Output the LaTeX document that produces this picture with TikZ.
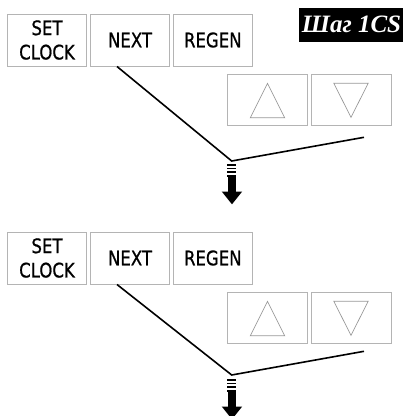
\documentclass[tikz,border=0pt]{standalone}
\usepackage{fontspec}
\usetikzlibrary{calc}
\newfontfamily\btnfont[FakeBold=0.8,FakeStretch=0.92]{DejaVu Sans Condensed}
\newfontfamily\lblfont{Liberation Serif}
\definecolor{boxgray}{HTML}{B4B4B4}
\definecolor{trigray}{HTML}{999999}
\tikzset{
  btn/.style={draw=boxgray, line width=0.9pt, minimum width=79pt, minimum height=52pt,
    inner sep=0pt, align=center, font=\btnfont\fontsize{20}{24.3}\selectfont},
  arrbox/.style={draw=boxgray, line width=0.9pt, minimum width=80pt, minimum height=51.5pt, inner sep=0pt},
  tri/.style={draw=trigray, line width=0.7pt, line join=miter},
  conn/.style={line width=1.6pt, line join=miter},
  stripe/.style={fill=black, draw=none}
}
\begin{document}
\begin{tikzpicture}[x=1pt,y=-1pt]
\useasboundingbox (0,0) rectangle (403,416);
\clip (0,0) rectangle (403,416);
\fill[white] (0,0) rectangle (403,416);
% label
\node[fill=black, text=white, minimum width=105pt, minimum height=34pt, inner sep=0pt,
  font=\lblfont\bfseries\itshape\fontsize{25}{25}\selectfont] (lbl) at (351.5,24.5) {Шаг 1CS};
\foreach \i/\b/\l/\a in {1/0/0/0, 2/218/214/215} {
  \node[btn] (set\i) at (47,40+\b) {SET\\CLOCK};
  \node[btn] (next\i) at (130,40+\b) {NEXT};
  \node[btn] (regen\i) at (212.8,40+\b) {REGEN};
  \node[arrbox] (up\i) at (267.5,100+\b) {};
  \node[arrbox] (down\i) at (351,100+\b) {};
  \draw[tri] ($(up\i.center)+(0,-16.7)$) -- ($(up\i.center)+(17.2,17.7)$) -- ($(up\i.center)+(-17.2,17.7)$) -- cycle;
  \draw[tri] ($(down\i.center)+(-17.2,-16.7)$) -- ($(down\i.center)+(17.2,-16.7)$) -- ($(down\i.center)+(0,17.3)$) -- cycle;
  \coordinate (s\i) at (117,66.5+\b);
  \coordinate (v\i) at (231.7,161+\l);
  \coordinate (e\i) at (364,137.3+\l);
  \draw[conn] (s\i) -- (v\i) -- (e\i);
  % arrow
  \fill[stripe] (227.3,164+\a) rectangle (236.3,165.7+\a);
  \fill[stripe] (227.3,167.7+\a) rectangle (236.3,169.3+\a);
  \fill[stripe] (227.3,171+\a) rectangle (236.3,173+\a);
  \fill[stripe] (227.3,174.5+\a) rectangle (236.3,176.8+\a);
  \fill[stripe] (228,176.5+\a) -- (228,191.5+\a) -- (221.7,191.5+\a) -- (232,204.3+\a)
     -- (242.2,191.5+\a) -- (235.8,191.5+\a) -- (235.8,176.5+\a) -- cycle;
}
\end{tikzpicture}
\end{document}
